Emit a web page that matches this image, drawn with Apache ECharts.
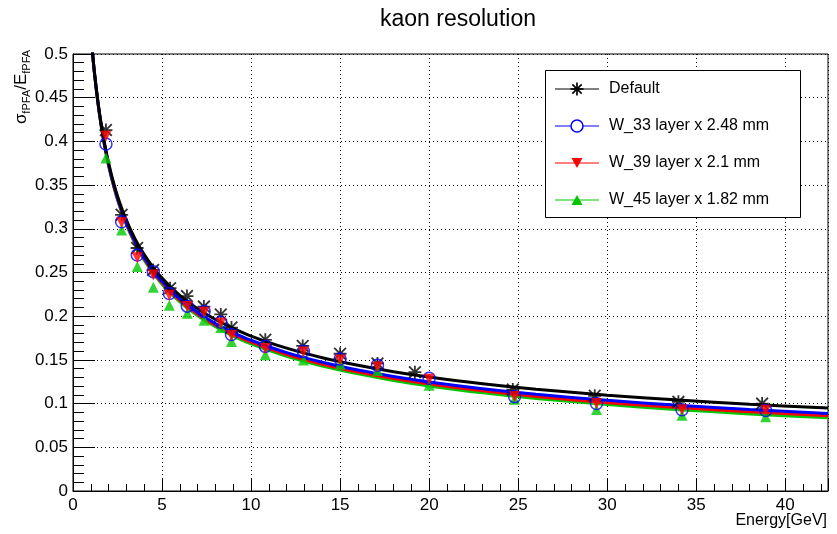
<!DOCTYPE html>
<html>
<head>
<meta charset="utf-8">
<script src="https://cdn.jsdelivr.net/npm/echarts@6/dist/echarts.min.js"></script>
<style>
html,body{margin:0;padding:0;background:#fff;}
#chart{width:837px;height:534px;}
</style>
</head>
<body>
<div id="chart"></div>
<script>
// ---- data ----
const seriesNames = ['Default', 'W_33 layer x 2.48 mm', 'W_39 layer x 2.1 mm', 'W_45 layer x 1.82 mm'];
const xTicks = [0, 5, 10, 15, 20, 25, 30, 35, 40];
const yTicks = [0, 0.05, 0.1, 0.15, 0.2, 0.25, 0.3, 0.35, 0.4, 0.45, 0.5];

const defaultE   = [1.85, 2.73, 3.6, 4.5, 5.45, 6.4, 7.35, 8.3, 8.9, 10.8, 12.9, 15.0, 17.1, 19.2, 24.7, 29.3, 34.0, 38.7];
const defaultRes = [0.413, 0.316, 0.278, 0.253, 0.232, 0.223, 0.211, 0.202, 0.187, 0.173, 0.166, 0.157, 0.146, 0.136, 0.116, 0.109, 0.102, 0.100];

const layerE  = [1.85, 2.73, 3.61, 4.51, 5.41, 6.42, 7.36, 8.3, 8.9, 10.8, 12.94, 15.0, 17.1, 20.0, 24.8, 29.4, 34.2, 38.9];
const w33Res  = [0.397, 0.308, 0.270, 0.251, 0.226, 0.2115, 0.2055, 0.193, 0.179, 0.1655, 0.160, 0.151, 0.144, 0.129, 0.108, 0.100, 0.093, 0.092];
const w39Res  = [0.406, 0.307, 0.267, 0.247, 0.224, 0.211, 0.2045, 0.192, 0.178, 0.163, 0.159, 0.150, 0.142, 0.128, 0.108, 0.100, 0.093, 0.0925];
const w45Res  = [0.381, 0.2985, 0.257, 0.233, 0.2125, 0.2035, 0.1955, 0.187, 0.171, 0.156, 0.150, 0.145, 0.138, 0.121, 0.105, 0.0933, 0.0868, 0.085];

// fit curves
const curveE       = [1.05, 1.2, 1.4, 1.6, 1.8, 2, 2.3, 2.6, 3, 3.5, 4, 4.5, 5, 6, 7, 8, 9, 10, 12, 14, 16, 18, 20, 23, 26, 30, 34, 38, 42.4];
const curveDefault = [0.5115, 0.4796, 0.4453, 0.4176, 0.3947, 0.3753, 0.3512, 0.3313, 0.3096, 0.2879, 0.2704, 0.2559, 0.2437, 0.2239, 0.2086, 0.1962, 0.1860, 0.1773, 0.1634, 0.1525, 0.1438, 0.1365, 0.1304, 0.1227, 0.1164, 0.1096, 0.1040, 0.0993, 0.0949];
const curveW33     = [0.5118, 0.4794, 0.4446, 0.4165, 0.3932, 0.3735, 0.3490, 0.3288, 0.3068, 0.2847, 0.2670, 0.2523, 0.2398, 0.2198, 0.2042, 0.1917, 0.1813, 0.1725, 0.1583, 0.1473, 0.1384, 0.1310, 0.1248, 0.1171, 0.1107, 0.1037, 0.0980, 0.0932, 0.0888];
const curveW39     = [0.5119, 0.4793, 0.4442, 0.4160, 0.3926, 0.3727, 0.3480, 0.3277, 0.3056, 0.2834, 0.2655, 0.2507, 0.2382, 0.2180, 0.2023, 0.1897, 0.1792, 0.1703, 0.1561, 0.1450, 0.1361, 0.1286, 0.1224, 0.1146, 0.1081, 0.1011, 0.0954, 0.0906, 0.0861];
const curveW45     = [0.5119, 0.4791, 0.4438, 0.4154, 0.3919, 0.3719, 0.3471, 0.3267, 0.3044, 0.2821, 0.2641, 0.2492, 0.2366, 0.2163, 0.2006, 0.1879, 0.1773, 0.1684, 0.1541, 0.1430, 0.1340, 0.1265, 0.1202, 0.1123, 0.1059, 0.0989, 0.0931, 0.0882, 0.0838];

const colors = ['#000000', '#0000ff', '#ff0000', '#00c800'];
const FONT = 'Liberation Sans, Arial, Helvetica, sans-serif';
const starPath = 'path://M0,8.6L20,8.6L20,11.4L0,11.4Z M8.6,0L11.4,0L11.4,20L8.6,20Z M2,0L20,18L18,20L0,2Z M18,0L20,2L2,20L0,18Z';

function zip(a, b) { return a.map((v, i) => [v, b[i]]); }

const chart = echarts.init(document.getElementById('chart'), null, {renderer: 'canvas'});

function curveSeries(name, data, color, z) {
  return {
    name: name, type: 'line', data: zip(curveE, data), smooth: 0.3, showSymbol: false,
    symbol: 'none', lineStyle: {color: color, width: 3}, z: z, silent: true, clip: true
  };
}

const option = {
  animation: false,
  backgroundColor: '#ffffff',
  title: {
    text: 'kaon resolution', left: 453, top: 3, textAlign: 'center',
    textStyle: {fontFamily: FONT, fontSize: 23, fontWeight: 'normal', color: '#000'}
  },
  grid: {left: 73, top: 54, width: 755, height: 437, show: true, borderColor: '#000', borderWidth: 1, backgroundColor: 'transparent'},
  xAxis: {
    type: 'value', min: 0, max: 42.4, interval: 5,
    axisLine: {show: true, onZero: false, lineStyle: {color: '#000', width: 1}},
    axisTick: {show: true, inside: true, length: 13, lineStyle: {color: '#000'}},
    minorTick: {show: true, splitNumber: 5, length: 7, lineStyle: {color: '#000'}},
    splitLine: {show: true, lineStyle: {color: '#000', type: [1, 3], width: 1}},
    axisLabel: {fontFamily: FONT, fontSize: 17, color: '#000', margin: 6, showMaxLabel: false,
      formatter: v => xTicks.includes(v) ? String(v) : ''}
  },
  yAxis: {
    type: 'value', min: 0, max: 0.5, interval: 0.05,
    axisLine: {show: true, onZero: false, lineStyle: {color: '#000', width: 1}},
    axisTick: {show: true, inside: true, length: 22, lineStyle: {color: '#000'}},
    minorTick: {show: true, splitNumber: 5, length: 11, lineStyle: {color: '#000'}},
    splitLine: {show: true, lineStyle: {color: '#000', type: [1, 3], width: 1}},
    axisLabel: {fontFamily: FONT, fontSize: 17, color: '#000', margin: 5,
      formatter: v => { const t = yTicks.find(y => Math.abs(y - v) < 1e-9); return t === undefined ? '' : String(t); }}
  },
  series: [
    curveSeries('fit45', curveW45, colors[3], 2),
    curveSeries('fit39', curveW39, colors[2], 3),
    curveSeries('fit33', curveW33, colors[1], 4),
    curveSeries('fitDef', curveDefault, colors[0], 5),
    {name: seriesNames[0], type: 'scatter', data: zip(defaultE, defaultRes), symbol: starPath, symbolSize: 13,
      itemStyle: {color: colors[0]}, z: 6, silent: true},
    {name: seriesNames[1], type: 'scatter', data: zip(layerE, w33Res), symbol: 'circle', symbolSize: 12,
      itemStyle: {color: 'rgba(0,0,0,0)', borderColor: colors[1], borderWidth: 1.5}, z: 7, silent: true},
    {name: seriesNames[2], type: 'scatter', data: zip(layerE, w39Res), symbol: 'triangle', symbolRotate: 180, symbolSize: 11,
      itemStyle: {color: colors[2]}, z: 8, silent: true},
    {name: seriesNames[3], type: 'scatter', data: zip(layerE, w45Res), symbol: 'triangle', symbolSize: 11,
      itemStyle: {color: colors[3]}, z: 6, silent: true}
  ],
  graphic: []
};

// legend box (drawn manually, ROOT style)
const legY = [89, 126, 163, 200];
const g = [];
g.push({type: 'rect', z: 100, shape: {x: 545.5, y: 70.5, width: 255, height: 147}, style: {fill: '#fff', stroke: '#000', lineWidth: 1}});
seriesNames.forEach((n, i) => {
  const y = legY[i];
  g.push({type: 'line', z: 101, shape: {x1: 555, y1: y, x2: 599, y2: y}, style: {stroke: colors[i], lineWidth: 1}});
  g.push({type: 'text', z: 101, x: 609, y: y, style: {text: n, font: '16px ' + FONT, fill: '#000', verticalAlign: 'middle', align: 'left'}});
});
// star marker in legend: 4 strokes
const sx = 577, sy = legY[0], sr = 6.5;
[[-sr, 0, sr, 0], [0, -sr, 0, sr], [-sr * 0.72, -sr * 0.72, sr * 0.72, sr * 0.72], [-sr * 0.72, sr * 0.72, sr * 0.72, -sr * 0.72]].forEach(s => {
  g.push({type: 'line', z: 102, shape: {x1: sx + s[0], y1: sy + s[1], x2: sx + s[2], y2: sy + s[3]}, style: {stroke: colors[0], lineWidth: 1.7}});
});
g.push({type: 'circle', z: 102, shape: {cx: 577, cy: legY[1], r: 6}, style: {fill: '#fff', stroke: colors[1], lineWidth: 1.5}});
g.push({type: 'polygon', z: 102, shape: {points: [[571.5, legY[2] - 5], [582.5, legY[2] - 5], [577, legY[2] + 5]]}, style: {fill: colors[2]}});
g.push({type: 'polygon', z: 102, shape: {points: [[571.5, legY[3] + 5], [582.5, legY[3] + 5], [577, legY[3] - 5]]}, style: {fill: colors[3]}});
// x axis title
g.push({type: 'text', z: 100, x: 827, y: 513, style: {text: 'Energy[GeV]', font: '16px ' + FONT, fill: '#000', align: 'right', verticalAlign: 'top'}});
// y axis title (rotated, with subscripts)
g.push({type: 'text', z: 100, x: 21, y: 87, rotation: Math.PI / 2,
  style: {text: '{a|σ}{b|fPFA}{a|/E}{b|fPFA}', align: 'center', verticalAlign: 'middle', fill: '#000',
    rich: {
      a: {fontFamily: FONT, fontSize: 17, lineHeight: 22, verticalAlign: 'middle', fill: '#000'},
      b: {fontFamily: FONT, fontSize: 11, lineHeight: 22, verticalAlign: 'bottom', fill: '#000'}
    }}});
option.graphic = g;

chart.setOption(option);
</script>
</body>
</html>
